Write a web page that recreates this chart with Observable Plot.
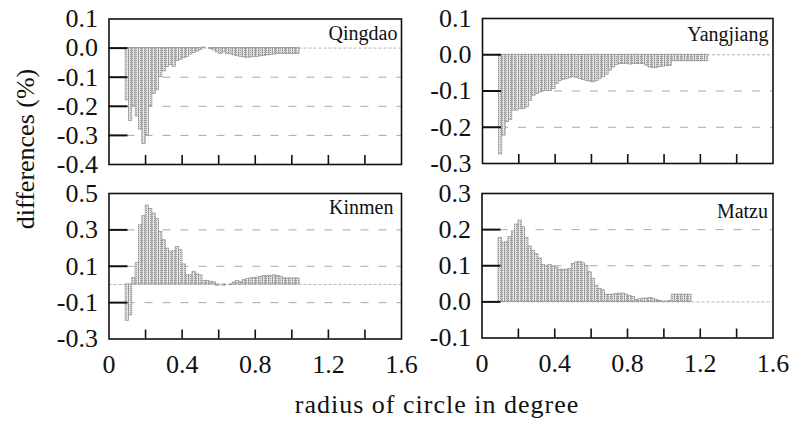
<!DOCTYPE html>
<html><head><meta charset="utf-8">
<script src="https://cdn.jsdelivr.net/npm/d3@7"></script>
<script src="https://cdn.jsdelivr.net/npm/@observablehq/plot@0.6"></script>
<style>
html,body{margin:0;padding:0;background:#fff;}
#chart{position:relative;width:792px;height:423px;overflow:hidden;font-family:"Liberation Serif","Times New Roman","DejaVu Serif",serif;}
#chart > svg{position:absolute;}
#chart svg text{font-family:"Liberation Serif","Times New Roman","DejaVu Serif",serif !important;}
</style></head><body><div id="chart"></div>
<script>
// radius grid of the bars (degree)
const radiusStart = 0.1, radiusStep = 0.0183;

// differences (%)
const qingdao = [-0.18,-0.25,-0.20,-0.235,-0.28,-0.33,-0.30,-0.20,-0.157,-0.145,
 -0.10,-0.08,-0.065,-0.058,-0.065,-0.045,-0.04,-0.035,-0.03,-0.022,
 -0.017,-0.012,-0.006,0.002,0.0,-0.004,-0.008,-0.015,-0.02,-0.015,
 -0.02,-0.022,-0.025,-0.028,-0.03,-0.032,-0.033,-0.032,-0.03,-0.03,
 -0.028,-0.027,-0.025,-0.024,-0.022,-0.02,-0.02,-0.02,-0.02,-0.02,
 -0.02,-0.02];
const yangjiang = [-0.275,-0.223,-0.186,-0.18,-0.154,-0.154,-0.15,-0.15,-0.145,-0.127,
 -0.113,-0.108,-0.104,-0.10,-0.10,-0.10,-0.095,-0.08,-0.072,-0.069,
 -0.067,-0.064,-0.062,-0.064,-0.067,-0.07,-0.072,-0.074,-0.076,-0.072,
 -0.067,-0.062,-0.055,-0.044,-0.035,-0.028,-0.026,-0.025,-0.026,-0.027,
 -0.026,-0.026,-0.025,-0.026,-0.03,-0.035,-0.037,-0.036,-0.034,-0.033,
 -0.031,-0.031,-0.018,-0.018,-0.018,-0.018,-0.018,-0.018,-0.018,-0.018,
 -0.018,-0.018,-0.018];
const kinmen = [-0.20,-0.17,0.036,0.118,0.325,0.376,0.434,0.415,0.39,0.36,
 0.288,0.243,0.197,0.18,0.183,0.206,0.188,0.11,0.05,0.05,
 0.07,0.055,0.05,0.018,0.02,0.015,0.011,-0.007,0.0,-0.007,
 0.0,-0.004,0.011,0.018,0.014,0.024,0.029,0.033,0.036,0.038,
 0.042,0.047,0.045,0.047,0.05,0.047,0.042,0.033,0.033,0.033,
 0.033,0.033];
const matzu = [0.177,0.164,0.165,0.18,0.195,0.214,0.225,0.207,0.177,0.153,
 0.141,0.132,0.12,0.102,0.10,0.102,0.098,0.095,0.089,0.089,
 0.089,0.091,0.105,0.109,0.111,0.107,0.10,0.082,0.064,0.045,
 0.036,0.032,0.02,0.02,0.02,0.022,0.023,0.023,0.02,0.016,
 0.014,0.005,0.007,0.009,0.009,0.011,0.009,0.005,0.003,0.001,
 0.001,0.002,0.02,0.02,0.02,0.02,0.02,0.02];

const xDomain = [0, 1.6];
const xInnerTicks = [0.2,0.4,0.6,0.8,1.0,1.2,1.4];
const xTickLabels = [0,0.4,0.8,1.2,1.6];
const yTitle = "differences (%)";
const xTitle = "radius of circle in degree";
const serif = '"Liberation Serif","Times New Roman","DejaVu Serif",serif';

const panels = [
  {name:"Qingdao", values:qingdao, yDomain:[-0.4,0.1], yLabels:[0.1,0,-0.1,-0.2,-0.3,-0.4],
   yGrid:[-0.1,-0.2,-0.3], yInner:[0,-0.1,-0.2,-0.3], xAxis:false,
   box:{left:0, top:0, width:410, height:178, ml:108.5, mr:9, mt:18.5, mb:14}, lab:{dx:-4, dy:7}},
  {name:"Yangjiang", values:yangjiang, yDomain:[-0.3,0.1], yLabels:[0.1,0,-0.1,-0.2,-0.3],
   yGrid:[-0.1,-0.2], yInner:[0,-0.1,-0.2], xAxis:false,
   box:{left:410, top:0, width:382, height:178, ml:72, mr:19.5, mt:18, mb:15}, lab:{dx:-4.5, dy:8}},
  {name:"Kinmen", values:kinmen, yDomain:[-0.3,0.5], yLabels:[0.5,0.3,0.1,-0.1,-0.3],
   yGrid:[0.3,0.1,-0.1], yInner:[0.3,0.1,-0.1], xAxis:true,
   box:{left:0, top:178, width:410, height:205, ml:108.5, mr:9, mt:15, mb:44.5}, lab:{dx:-8, dy:6}},
  {name:"Matzu", values:matzu, yDomain:[-0.1,0.3], yLabels:[0.3,0.2,0.1,0,-0.1],
   yGrid:[0.2,0.1], yInner:[0.2,0.1,0], xAxis:true,
   box:{left:410, top:178, width:382, height:205, ml:71.5, mr:19.5, mt:15, mb:45.5}, lab:{dx:-5, dy:10}}
];

const chart = document.getElementById("chart");
const fmtY = d => d.toFixed(1);
const fmtX = d => d === 0 ? "0" : d.toFixed(1);

panels.forEach((p, pi) => {
  const b = p.box;
  const fw = b.width - b.ml - b.mr, fh = b.height - b.mt - b.mb;
  const data = p.values.map((v, i) => ({x: radiusStart + i*radiusStep, v}));
  const pid = "dots" + pi;
  const marks = [
    Plot.ruleY(p.yGrid, {stroke:"#a8a8a8", strokeWidth:1, strokeDasharray:"8,10"}),
    Plot.ruleY([0], {stroke:"#b5b5b5", strokeWidth:1, strokeDasharray:"3,2"}),
    Plot.rect(data, {x1: d => d.x - radiusStep/2, x2: d => d.x + radiusStep/2, y1: 0, y2: "v",
      fill:`url(#${pid})`, stroke:"#8e8e8e", strokeWidth:0.7}),
    Plot.tickY(p.yInner, {stroke:"#111", strokeWidth:2, insetRight: fw - 19}),
    Plot.tickX(xInnerTicks, {stroke:"#111", strokeWidth:1.6, insetTop: fh - 9}),
    Plot.axisY({ticks:p.yLabels, tickSize:0, tickPadding:11, tickFormat:fmtY, fontSize:26, fill:"#111", label:null}),
    Plot.text([p.name], {frameAnchor:"top-right", textAnchor:"end", lineAnchor:"top",
      dx:p.lab.dx, dy:p.lab.dy, fontSize:20, fill:"#111"}),
    Plot.frame({stroke:"#111", strokeWidth:1.6})
  ];
  if (p.xAxis) marks.push(Plot.axisX({ticks:xTickLabels, tickSize:0, tickPadding:16, tickFormat:fmtX, fontSize:26, fill:"#111", label:null}));
  const opts = {
    width:b.width, height:b.height,
    marginLeft:b.ml, marginRight:b.mr, marginTop:b.mt, marginBottom:b.mb,
    x:{domain:xDomain, label:null},
    y:{domain:p.yDomain, label:null},
    style:{fontFamily:serif, background:"transparent", overflow:"visible", color:"#111"},
    marks
  };
  if (!p.xAxis) opts.x.axis = null;
  const svg = Plot.plot(opts);
  const ns = "http://www.w3.org/2000/svg";
  const defs = document.createElementNS(ns, "defs");
  defs.innerHTML = `<pattern id="${pid}" width="2" height="2" patternUnits="userSpaceOnUse">
    <rect width="2" height="2" fill="#e6e6e6"/><rect width="1" height="1" fill="#9a9a9a"/></pattern>`;
  svg.insertBefore(defs, svg.firstChild);
  svg.style.left = b.left + "px";
  svg.style.top = b.top + "px";
  chart.appendChild(svg);
});

// axis titles
const ns = "http://www.w3.org/2000/svg";
const ov = document.createElementNS(ns, "svg");
ov.setAttribute("width", 792); ov.setAttribute("height", 423);
ov.style.left = "0px"; ov.style.top = "0px"; ov.style.pointerEvents = "none";
ov.innerHTML = `<text transform="translate(34,149) rotate(-90)" text-anchor="middle" font-size="26" fill="#111">${yTitle}</text>
<text x="437" y="413" text-anchor="middle" font-size="26" letter-spacing="1" fill="#111">${xTitle}</text>`;
chart.appendChild(ov);
</script>
</body></html>
